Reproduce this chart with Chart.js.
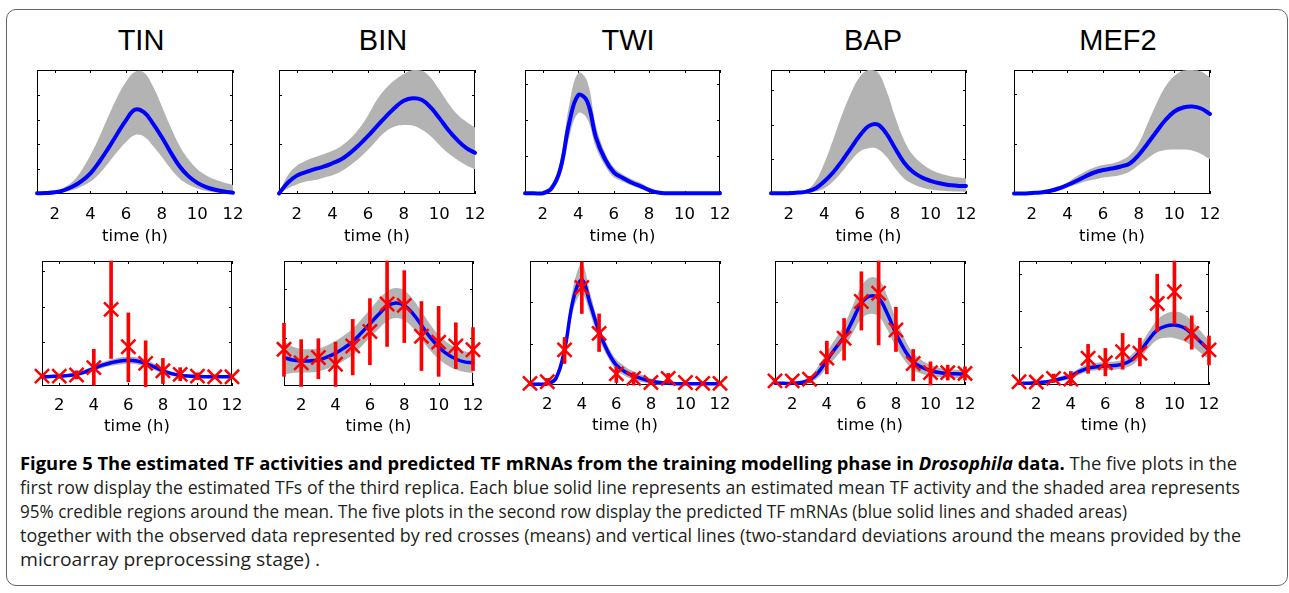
<!DOCTYPE html>
<html><head><meta charset="utf-8">
<script src="https://cdn.jsdelivr.net/npm/chart.js@4.4.1/dist/chart.umd.min.js"></script>
<style>
html,body{margin:0;padding:0;background:#fff;width:1289px;height:593px;overflow:hidden;position:relative;}
#frame{position:absolute;left:6px;top:9px;width:1282px;height:577px;border:1.5px solid #666;border-radius:10px;box-sizing:border-box;}
.ttl{position:absolute;font-family:"Liberation Sans",Arial,sans-serif;font-size:29px;line-height:30px;color:#000;transform:translate(-50%,-50%);white-space:nowrap;}
canvas.cv{position:absolute;}
#caption{position:absolute;left:20px;top:451px;font-family:"Open Sans",sans-serif;font-size:18.5px;color:#231f20;line-height:24px;}
.ln{display:block;white-space:nowrap;transform-origin:0 0;width:max-content;}
.ln b{color:#000;}
</style></head>
<body>
<div id="frame"></div>
<div id="caption">
<span class="ln"><b>Figure 5 The estimated TF activities and predicted TF mRNAs from the training modelling phase in <i>Drosophila</i> data.</b> The five plots in the</span>
<span class="ln">first row display the estimated TFs of the third replica. Each blue solid line represents an estimated mean TF activity and the shaded area represents</span>
<span class="ln">95% credible regions around the mean. The five plots in the second row display the predicted TF mRNAs (blue solid lines and shaded areas)</span>
<span class="ln">together with the observed data represented by red crosses (means) and vertical lines (two-standard deviations around the means provided by the</span>
<span class="ln">microarray preprocessing stage) .</span>
</div>
<script>
// ---------- DATA ----------
const panelNames = ['TIN','BIN','TWI','BAP','MEF2'];
const timeGrid = [1,1.5,2,2.5,3,3.5,4,4.5,5,5.5,6,6.5,7,7.5,8,8.5,9,9.5,10,10.5,11,11.5,12];
const obsTimes = [1,2,3,4,5,6,7,8,9,10,11,12];
const xTickValues = [2,4,6,8,10,12];

// Row 1: estimated TF activities (mean, 95% band)
const tinActMean  = [0.03,0.04,0.07,0.15,0.3,0.52,0.83,1.3,1.84,2.42,2.98,3.4,3.3,2.85,2.3,1.68,1.12,0.72,0.45,0.28,0.17,0.1,0.05];
const tinActUpper = [0.03,0.05,0.1,0.25,0.5,0.95,1.57,2.3,3.12,3.9,4.53,4.93,4.9,4.35,3.55,2.7,1.95,1.4,1.0,0.75,0.58,0.46,0.36];
const tinActLower = [0,0.01,0.03,0.08,0.16,0.3,0.5,0.82,1.24,1.7,2.1,2.38,2.32,1.95,1.5,1.02,0.63,0.38,0.22,0.12,0.06,0.02,0];

const binActMean  = [0.01,0.23,0.37,0.44,0.5,0.55,0.62,0.7,0.83,0.99,1.17,1.37,1.56,1.74,1.88,1.93,1.9,1.75,1.53,1.29,1.09,0.93,0.83];
const binActUpper = [0.03,0.38,0.57,0.67,0.74,0.8,0.87,0.97,1.12,1.32,1.59,1.9,2.13,2.3,2.42,2.5,2.49,2.35,2.1,1.83,1.61,1.46,1.34];
const binActLower = [0,0.11,0.19,0.25,0.28,0.33,0.38,0.46,0.58,0.72,0.89,1.09,1.26,1.36,1.39,1.38,1.3,1.17,0.99,0.82,0.69,0.58,0.5];

const twiActMean  = [-0.03,-0.03,-0.03,0.11,0.66,1.94,2.7,2.54,1.53,0.93,0.56,0.4,0.27,0.17,0.06,-0.01,-0.03,-0.03,-0.03,-0.03,-0.03,-0.03,-0.03];
const twiActUpper = [-0.02,-0.02,-0.02,0.16,0.9,2.45,3.32,3.1,1.85,1.12,0.7,0.5,0.37,0.26,0.13,0.03,-0.02,-0.02,-0.02,-0.02,-0.02,-0.02,-0.02];
const twiActLower = [-0.04,-0.04,-0.04,0.05,0.45,1.55,2.2,2.05,1.25,0.75,0.42,0.3,0.19,0.1,0.0,-0.03,-0.04,-0.04,-0.04,-0.04,-0.04,-0.04,-0.04];

const bapActMean  = [0.02,0.02,0.02,0.04,0.07,0.16,0.36,0.62,0.95,1.32,1.68,1.96,2.01,1.75,1.32,0.91,0.64,0.48,0.38,0.31,0.26,0.24,0.23];
const bapActUpper = [0.02,0.02,0.02,0.04,0.1,0.36,0.88,1.56,2.28,2.9,3.38,3.58,3.53,3.0,2.23,1.56,1.13,0.88,0.71,0.6,0.53,0.48,0.45];
const bapActLower = [0,0,0,0,0,0.07,0.16,0.36,0.64,0.96,1.22,1.32,1.3,1.08,0.74,0.45,0.29,0.19,0.13,0.1,0.08,0.07,0.06];

const mefActMean  = [0.01,0.01,0.02,0.03,0.06,0.11,0.18,0.26,0.35,0.43,0.48,0.51,0.55,0.61,0.78,1.01,1.25,1.48,1.65,1.73,1.75,1.71,1.6];
const mefActUpper = [0.01,0.02,0.03,0.05,0.08,0.15,0.23,0.35,0.45,0.53,0.58,0.61,0.67,0.78,1.01,1.41,1.81,2.15,2.36,2.47,2.48,2.45,2.33];
const mefActLower = [0,0,0.01,0.02,0.03,0.07,0.13,0.19,0.25,0.29,0.33,0.35,0.38,0.45,0.58,0.71,0.83,0.88,0.89,0.89,0.87,0.8,0.69];

// Row 2: predicted TF mRNAs (mean, band) and observed data (mean, +/- 2 sd)
const tinMrnaMean  = [0.01,0.02,0.03,0.05,0.08,0.15,0.25,0.34,0.41,0.46,0.48,0.46,0.39,0.29,0.18,0.1,0.05,0.03,0.02,0.01,0.01,0.01,0.01];
const tinMrnaUpper = [0.04,0.05,0.06,0.09,0.13,0.21,0.32,0.42,0.5,0.56,0.58,0.56,0.49,0.38,0.26,0.16,0.09,0.06,0.05,0.04,0.04,0.04,0.04];
const tinMrnaLower = [-0.02,-0.01,0,0.01,0.03,0.09,0.18,0.26,0.32,0.36,0.38,0.36,0.3,0.2,0.1,0.04,0.01,0,-0.01,-0.02,-0.02,-0.02,-0.02];
const tinObs     = [0.03,0.03,0.06,0.27,1.92,0.86,0.39,0.18,0.08,0.03,0.01,0.01];
const tinObsLow  = [-0.03,-0.03,-0.05,-0.23,0.53,-0.13,-0.27,-0.18,-0.1,-0.07,-0.04,-0.04];
const tinObsHigh = [0.09,0.09,0.18,0.79,3.29,1.82,1.03,0.53,0.27,0.12,0.06,0.06];

const binMrnaMean  = [0.59,0.54,0.52,0.52,0.54,0.6,0.68,0.79,0.92,1.1,1.29,1.48,1.65,1.72,1.67,1.5,1.26,1.01,0.81,0.66,0.56,0.5,0.48];
const binMrnaUpper = [0.92,0.82,0.77,0.76,0.78,0.84,0.93,1.05,1.19,1.38,1.58,1.79,1.96,2.03,1.98,1.8,1.55,1.28,1.06,0.9,0.79,0.72,0.69];
const binMrnaLower = [0.24,0.27,0.28,0.28,0.3,0.36,0.43,0.53,0.65,0.82,1.0,1.18,1.34,1.41,1.36,1.2,0.97,0.74,0.56,0.43,0.34,0.29,0.27];
const binObs     = [0.76,0.48,0.59,0.45,0.83,1.13,1.7,1.67,1.03,0.91,0.83,0.75];
const binObsLow  = [0.2,-0.01,0.15,-0.01,0.23,0.44,0.82,0.9,0.32,0.2,0.36,0.32];
const binObsHigh = [1.3,0.96,0.98,0.91,1.38,1.81,2.59,2.39,1.75,1.65,1.31,1.21];

const twiMrnaMean  = [0.02,0.02,0.03,0.16,0.85,2.06,2.54,1.94,1.29,0.81,0.48,0.32,0.22,0.15,0.09,0.06,0.04,0.03,0.03,0.03,0.03,0.03,0.03];
const twiMrnaUpper = [0.06,0.06,0.07,0.26,1.0,2.35,2.92,2.2,1.45,0.95,0.62,0.45,0.33,0.24,0.16,0.11,0.08,0.07,0.06,0.06,0.06,0.06,0.06];
const twiMrnaLower = [-0.01,-0.01,-0.01,0.08,0.65,1.8,2.2,1.7,1.1,0.68,0.36,0.22,0.13,0.07,0.03,0.01,0,0,0,0,0,0,0];
const twiObs     = [0.04,0.08,0.85,2.36,1.25,0.27,0.16,0.06,0.16,0.06,0.04,0.04];
const twiObsLow  = [0.01,0.0,0.52,1.73,0.81,0.06,0.0,0.02,0.04,0.02,0.01,0.01];
const twiObsHigh = [0.07,0.16,1.15,2.98,1.72,0.44,0.3,0.1,0.28,0.1,0.07,0.07];

const bapMrnaMean  = [0.04,0.04,0.04,0.06,0.12,0.3,0.6,0.89,1.17,1.57,1.98,2.15,2.1,1.73,1.25,0.85,0.56,0.43,0.35,0.3,0.28,0.27,0.26];
const bapMrnaUpper = [0.07,0.07,0.07,0.1,0.2,0.45,0.8,1.12,1.45,1.92,2.38,2.6,2.55,2.15,1.6,1.12,0.78,0.6,0.49,0.42,0.39,0.37,0.36];
const bapMrnaLower = [0.01,0.01,0.01,0.03,0.06,0.18,0.42,0.66,0.9,1.25,1.6,1.72,1.66,1.34,0.92,0.6,0.36,0.27,0.22,0.19,0.18,0.17,0.16];
const bapObs     = [0.1,0.1,0.14,0.65,1.13,2.02,2.22,1.33,0.52,0.3,0.3,0.28];
const bapObsLow  = [0.05,0.05,0.06,0.27,0.6,1.33,0.97,0.81,0.1,0.0,0.12,0.12];
const bapObsHigh = [0.15,0.15,0.21,1.06,1.61,2.74,3.0,1.88,0.86,0.56,0.48,0.44];

const mefMrnaMean  = [0.02,0.02,0.03,0.05,0.09,0.15,0.22,0.34,0.43,0.47,0.49,0.5,0.54,0.65,0.88,1.2,1.47,1.58,1.61,1.55,1.38,1.15,0.93];
const mefMrnaUpper = [0.05,0.05,0.06,0.09,0.14,0.22,0.3,0.43,0.54,0.58,0.6,0.61,0.66,0.8,1.06,1.42,1.75,1.92,1.97,1.92,1.72,1.45,1.18];
const mefMrnaLower = [-0.01,-0.01,0,0.01,0.04,0.08,0.14,0.25,0.33,0.37,0.38,0.39,0.42,0.5,0.7,0.98,1.2,1.26,1.25,1.18,1.04,0.85,0.68];
const mefObs     = [0.06,0.05,0.15,0.13,0.7,0.58,0.88,0.84,2.2,2.52,1.38,0.93];
const mefObsLow  = [0.02,0.01,0.04,-0.05,0.29,0.22,0.4,0.49,1.43,1.64,0.95,0.52];
const mefObsHigh = [0.1,0.09,0.27,0.34,1.08,0.97,1.38,1.25,3.0,3.36,1.86,1.31];

// y-axis ranges and tick values (labels hidden, as in the figure)
const actYMin  = [0, 0, -0.05, 0, 0];
const actYMax  = [5, 2.5, 3.4, 3.58, 2.48];
const actYTicks = [[1,2,3,4],[1,2],[1,2,3],[1,2,3],[1,2]];
const mrnaYMin = [-0.25, 0, 0, 0, -0.03];
const mrnaYMax = [3.29, 2.59, 3, 3, 3.36];
const mrnaYTicks = [[1,2,3],[1,2],[1,2],[1,2],[1,2,3]];

// ---------- LAYOUT ----------
const row1Boxes = [[37,70,233,194],[279,70,475,194],[525,70,720,194],[771,70,966,194],[1014,70,1210,194]];
const row2Boxes = [[42,261,232,386],[284,261,473,386],[530,261,720,385],[775,261,965,385],[1019,261,1209,385]];
const titleX = [141,383,628,873,1118];
const PAD_X = 28, PAD_T = 16, AX_H = 54;

const actSeries = [
  [tinActMean,tinActUpper,tinActLower],[binActMean,binActUpper,binActLower],
  [twiActMean,twiActUpper,twiActLower],[bapActMean,bapActUpper,bapActLower],
  [mefActMean,mefActUpper,mefActLower]];
const mrnaSeries = [
  [tinMrnaMean,tinMrnaUpper,tinMrnaLower,tinObs,tinObsLow,tinObsHigh],
  [binMrnaMean,binMrnaUpper,binMrnaLower,binObs,binObsLow,binObsHigh],
  [twiMrnaMean,twiMrnaUpper,twiMrnaLower,twiObs,twiObsLow,twiObsHigh],
  [bapMrnaMean,bapMrnaUpper,bapMrnaLower,bapObs,bapObsLow,bapObsHigh],
  [mefMrnaMean,mefMrnaUpper,mefMrnaLower,mefObs,mefObsLow,mefObsHigh]];

const AXFONT = '"DejaVu Sans", "Liberation Sans", sans-serif';
const AXSIZE = 16.5;

const boxPlugin = {
  id: 'matlabBox',
  beforeDatasetsDraw(chart) {
    const {ctx, chartArea: a, scales: {x, y}} = chart;
    ctx.save();
    ctx.strokeStyle = '#000';
    ctx.lineWidth = 1;
    ctx.strokeRect(a.left + 0.5, a.top + 0.5, a.right - a.left - 1, a.bottom - a.top - 1);
    const tl = 3;
    ctx.beginPath();
    x.ticks.forEach(t => {
      const px = Math.round(x.getPixelForValue(t.value)) + 0.5;
      ctx.moveTo(px, a.bottom); ctx.lineTo(px, a.bottom - tl);
      ctx.moveTo(px, a.top); ctx.lineTo(px, a.top + tl);
    });
    y.ticks.forEach(t => {
      const py = Math.round(y.getPixelForValue(t.value)) + 0.5;
      ctx.moveTo(a.left, py); ctx.lineTo(a.left + tl, py);
      ctx.moveTo(a.right, py); ctx.lineTo(a.right - tl, py);
    });
    ctx.stroke();
    ctx.restore();
  }
};

function pts(xs, ys) { return xs.map((t, i) => ({x: t, y: ys[i]})); }

function makeChart(box, datasets, yMin, yMax, yTicks, tickPad, titlePadBottom) {
  const cv = document.createElement('canvas');
  cv.className = 'cv';
  cv.width = box[2] - box[0] + 2 * PAD_X;
  cv.height = box[3] - box[1] + PAD_T + AX_H;
  cv.style.left = (box[0] - PAD_X) + 'px';
  cv.style.top = (box[1] - PAD_T) + 'px';
  document.body.appendChild(cv);
  new Chart(cv, {
    type: 'line',
    data: {datasets},
    options: {
      responsive: false, animation: false, events: [],
      layout: {padding: {left: PAD_X, right: PAD_X, top: PAD_T, bottom: 0}},
      plugins: {legend: {display: false}, tooltip: {enabled: false}},
      scales: {
        x: {
          type: 'linear', min: 1, max: 12, offset: false,
          afterBuildTicks: s => { s.ticks = xTickValues.map(v => ({value: v})); },
          afterFit: s => { s.height = AX_H; },
          ticks: {font: {family: AXFONT, size: AXSIZE}, color: '#000', padding: tickPad, maxRotation: 0, autoSkip: false},
          grid: {display: false, drawTicks: false, offset: false}, border: {display: false},
          title: {display: true, text: 'time (h)', color: '#000', font: {family: AXFONT, size: AXSIZE}, padding: {top: 0, bottom: titlePadBottom}}
        },
        y: {
          type: 'linear', min: yMin, max: yMax,
          afterBuildTicks: s => { s.ticks = yTicks.map(v => ({value: v})); },
          afterFit: s => { s.width = 0; },
          ticks: {display: false}, grid: {display: false, drawTicks: false}, border: {display: false}
        }
      }
    },
    plugins: [boxPlugin]
  });
}

function bandSets(mean, upper, lower, lw) {
  return [
    {type: 'line', data: pts(timeGrid, upper), fill: '+1', backgroundColor: '#b3b3b3', borderColor: 'rgba(0,0,0,0)', borderWidth: 0, pointRadius: 0, tension: 0.4, order: 5},
    {type: 'line', data: pts(timeGrid, lower), fill: false, borderColor: 'rgba(0,0,0,0)', borderWidth: 0, pointRadius: 0, tension: 0.4, order: 5},
    {type: 'line', data: pts(timeGrid, mean), fill: false, borderColor: '#0000ff', borderWidth: lw, pointRadius: 0, tension: 0.4, order: 3, clip: false, borderCapStyle: 'round'}
  ];
}

panelNames.forEach((name, i) => {
  const t = document.createElement('div');
  t.className = 'ttl';
  t.textContent = name;
  t.style.left = titleX[i] + 'px';
  t.style.top = '40px';
  document.body.appendChild(t);

  const [am, au, al] = actSeries[i];
  makeChart(row1Boxes[i], bandSets(am, au, al, 4), actYMin[i], actYMax[i], actYTicks[i], 11, 1.5);

  const [mm, mu, ml, ob, lo, hi] = mrnaSeries[i];
  const ds = bandSets(mm, mu, ml, 3.5);
  ds.push({type: 'bar', data: obsTimes.map((tt, k) => ({x: tt, y: [lo[k], hi[k]]})), backgroundColor: '#ff0000', borderWidth: 0, barThickness: 3, order: 2, clip: false});
  ds.push({type: 'line', data: pts(obsTimes, ob), showLine: false, pointStyle: 'crossRot', pointRadius: 10, pointBorderWidth: 2.5, pointBorderColor: '#ff0000', pointBackgroundColor: '#ff0000', order: 1, clip: false});
  makeChart(row2Boxes[i], ds, mrnaYMin[i], mrnaYMax[i], mrnaYTicks[i], 10, 3.5);
});

// fit each caption line to the width it has in the figure
const captionWidths = [1217, 1220, 1107, 1221, 300];
function fitCaption() {
  document.querySelectorAll('#caption .ln').forEach((el, i) => {
    el.style.transform = 'none';
    const w = el.getBoundingClientRect().width;
    if (w > 0) el.style.transform = 'scaleX(' + (captionWidths[i] / w) + ')';
  });
}
fitCaption();
if (document.fonts && document.fonts.ready) document.fonts.ready.then(fitCaption);
</script>
</body></html>
